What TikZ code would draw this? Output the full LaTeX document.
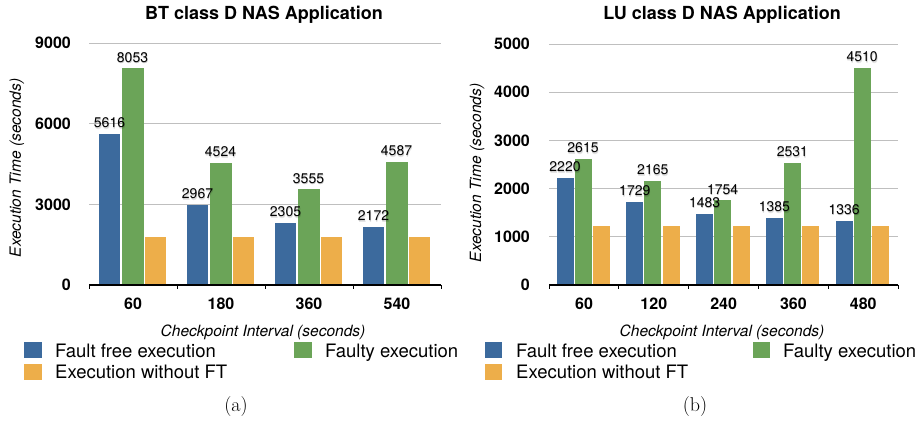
\documentclass[tikz,border=0pt]{standalone}
\usepackage{fontspec}
\newfontfamily\helv{TeX Gyre Heros}
\usetikzlibrary{positioning}

\definecolor{ffblue}{RGB}{60,106,157}
\definecolor{fygreen}{RGB}{107,164,88}
\definecolor{noftorange}{RGB}{237,174,74}

% value label with a soft grey shadow under it
\newcommand{\vallabel}[3]{%
  \node[vallab,text=black,opacity=0.10,xshift=0.6pt,yshift=-1.8pt] at (#2) {#3};
  \node[vallab,text=black,opacity=0.15,xshift=0.3pt,yshift=-1pt] at (#2) {#3};
  \node[vallab] (#1) at (#2) {#3};}

\begin{document}
\begin{tikzpicture}
[x=1pt,y=-1pt,
 grid/.style={draw=black!25,line width=0.9pt},
 axis/.style={draw=black,line width=1.2pt},
 ticklab/.style={font=\helv\bfseries\fontsize{16}{16}\selectfont,anchor=east,inner sep=0pt},
 catlab/.style={font=\helv\bfseries\fontsize{16}{16}\selectfont,inner sep=0pt},
 vallab/.style={font=\helv\fontsize{14}{14}\selectfont,anchor=south,inner sep=0pt,yshift=6pt},
 axtitle/.style={font=\helv\itshape\fontsize{15.5}{16}\selectfont,inner sep=0pt},
 title/.style={font=\helv\bfseries\fontsize{18}{18}\selectfont,inner sep=0pt},
 legbox/.style={minimum width=18pt,minimum height=16pt,inner sep=0pt},
 legtext/.style={font=\helv\fontsize{18.5}{18.5}\selectfont,anchor=base west,inner sep=0pt},
 caption/.style={font=\fontsize{20}{20}\selectfont,inner sep=0pt}]

\useasboundingbox (0,0) rectangle (920,420);

%%% BT class D
\node[title] (bttitle) at (264,15) {BT class D NAS Application};
\foreach \v in {3000,6000,9000}
	\draw[grid] (89,{285-\v/9000*242}) -- (441,{285-\v/9000*242});
\foreach \v in {0,3000,6000,9000}
	\node[ticklab] (bty\v) at (71,{285-\v/9000*242}) {\v};

\foreach \ff/\fy/\ci [count=\i from 0] in {5616/8053/60,2967/4524/180,2305/3555/360,2172/4587/540} {
	\pgfmathsetmacro\gx{89+88*\i}
	\fill[ffblue] ({\gx+10},285) rectangle ({\gx+31},{285-\ff/9000*242});
	\fill[fygreen] ({\gx+32.5},285) rectangle ({\gx+54.5},{285-\fy/9000*242});
	\fill[noftorange] ({\gx+56},285) rectangle ({\gx+77},{285-1790/9000*242});
	\vallabel{btff\i}{{\gx+20.5},{285-\ff/9000*242}}{\ff}
	\vallabel{btfy\i}{{\gx+43.5},{285-\fy/9000*242}}{\fy}
	\node[catlab] (btx\i) at ({\gx+44},304) {\ci};
}
\draw[axis] (89,285) -- (441,285);
\foreach \k in {0,...,4}
	\draw[axis,line width=0.9pt] ({89+88*\k},285) -- ({89+88*\k},289);

\node[axtitle] (btxt) at (263,332) {Checkpoint Interval (seconds)};
\node[axtitle,rotate=90] (btyt) at (17,168) {Execution Time (seconds)};

\node[legbox,fill=ffblue] (btlf) at (33,350) {};
\node[legtext] (btlft) at (55,357) {Fault free execution};
\node[legbox,fill=fygreen] (btly) at (303,350) {};
\node[legtext] (btlyt) at (325,357) {Faulty execution};
\node[legbox,fill=noftorange] (btln) at (33,372) {};
\node[legtext] (btlnt) at (55,378.5) {Execution without FT};

\node[caption] (capa) at (236,407) {(a)};

%%% LU class D
\node[title] (lutitle) at (722,15) {LU class D NAS Application};
\foreach \v in {1000,2000,3000,4000,5000}
	\draw[grid] (549,{285-\v/5000*241}) -- (898,{285-\v/5000*241});
\foreach \v in {0,1000,2000,3000,4000,5000}
	\node[ticklab] (luy\v) at (530,{285-\v/5000*241}) {\v};

\foreach \ff/\fy/\ci [count=\i from 0] in {2220/2615/60,1729/2165/120,1483/1754/240,1385/2531/360,1336/4510/480} {
	\pgfmathsetmacro\gx{549+69.8*\i}
	\fill[ffblue] ({\gx+7.5},285) rectangle ({\gx+24.5},{285-\ff/5000*241});
	\fill[fygreen] ({\gx+25.5},285) rectangle ({\gx+42.5},{285-\fy/5000*241});
	\fill[noftorange] ({\gx+44},285) rectangle ({\gx+61},{285-1230/5000*241});
	\vallabel{luff\i}{{\gx+16},{285-\ff/5000*241}}{\ff}
	\vallabel{lufy\i}{{\gx+34},{285-\fy/5000*241}}{\fy}
	\node[catlab] (lux\i) at ({\gx+35},304) {\ci};
}
\draw[axis] (549,285) -- (898,285);
\foreach \k in {0,...,5}
	\draw[axis,line width=0.9pt] ({549+69.8*\k},285) -- ({549+69.8*\k},289);

\node[axtitle] (luxt) at (722,332) {Checkpoint Interval (seconds)};
\node[axtitle,rotate=90] (luyt) at (477,173) {Execution Time (seconds)};

\node[legbox,minimum width=17pt,fill=ffblue] (lulf) at (493.5,350) {};
\node[legtext] (lulft) at (516,357) {Fault free execution};
\node[legbox,minimum width=17pt,fill=fygreen] (luly) at (761.5,350) {};
\node[legtext] (lulyt) at (783,357) {Faulty execution};
\node[legbox,minimum width=17pt,fill=noftorange] (luln) at (493.5,372) {};
\node[legtext] (lulnt) at (516,378.5) {Execution without FT};

\node[caption] (capb) at (695,407) {(b)};
\end{tikzpicture}
\end{document}
